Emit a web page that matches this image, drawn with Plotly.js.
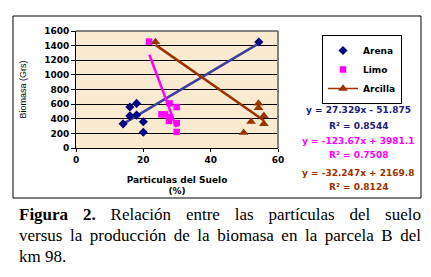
<!DOCTYPE html>
<html>
<head>
<meta charset="utf-8">
<script src="https://cdn.plot.ly/plotly-3.0.1.min.js"></script>
<style>
html,body{margin:0;padding:0;background:#fff;}
#wrap{position:relative;width:431px;height:277px;overflow:hidden;}
#chart{position:absolute;left:0;top:0;width:431px;height:277px;}
#cap{position:absolute;left:19px;top:204px;width:402px;font-family:"Liberation Serif","Times New Roman",serif;font-size:17px;line-height:21px;color:#000;}
#cap div{text-align:justify;text-align-last:justify;white-space:nowrap;font-size:17px;}
#cap div.last{text-align-last:left;}
#cap b{font-size:17px;}
</style>
</head>
<body>
<div id="wrap">
<div id="chart"></div>
<div id="cap">
<div style="font-size:17px"><b style="font-size:17px">Figura 2.</b> Relación entre las partículas del suelo</div>
<div style="font-size:17px">versus la producción de la biomasa en la parcela B del</div>
<div class="last" style="font-size:17px">km 98.</div>
</div>
</div>
<script>
// Data
const arenaX = [14, 16, 16, 18, 18, 20, 20, 54.3];
const arenaY = [330, 560, 440, 610, 450, 360, 215, 1450];
const limoX = [21.7, 25.4, 26.4, 27.8, 29.9, 27.9, 27.6, 29.9, 29.9];
const limoY = [1455, 460, 460, 610, 560, 420, 370, 340, 220];
const arcillaX = [23.6, 49.8, 52, 54.2, 54.2, 55.8, 55.8];
const arcillaY = [1450, 210, 360, 610, 550, 440, 330];

// Trend line end points
const arenaTrendX = [14, 54.3];
const arenaTrendY = [330, 1430];
const limoTrendX = [21.8, 29.8];
const limoTrendY = [1275, 285];
const arcillaTrendX = [23.6, 55.8];
const arcillaTrendY = [1410, 375];

const seriesNames = ["Arena", "Limo", "Arcilla"];
const equations = ["y = 27.329x - 51.875", "y = -123.67x + 3981.1", "y = -32.247x + 2169.8"];
const r2Values = ["0.8544", "0.7508", "0.8124"];
const xTicks = [0, 20, 40, 60];
const yTicks = [0, 200, 400, 600, 800, 1000, 1200, 1400, 1600];

const cArena = "#000080", cArenaLine = "#3E3E9E";
const cLimo = "#FF00FF";
const cArc = "#993300";
const eqColors = ["#202078", "#FF00FF", "#993300"];

const tickFont = {family: "DejaVu Sans", size: 9, color: "#000", weight: "bold"};

const traces = [
  {x: arenaTrendX, y: arenaTrendY, mode: "lines", line: {color: cArenaLine, width: 2.5}, showlegend: false, hoverinfo: "skip"},
  {x: limoTrendX, y: limoTrendY, mode: "lines", line: {color: cLimo, width: 2.5}, showlegend: false, hoverinfo: "skip"},
  {x: arcillaTrendX, y: arcillaTrendY, mode: "lines", line: {color: cArc, width: 2.5}, showlegend: false, hoverinfo: "skip"},
  {x: arenaX, y: arenaY, mode: "markers", name: seriesNames[0], marker: {symbol: "diamond", size: 7, color: cArena}},
  {x: limoX, y: limoY, mode: "markers", name: seriesNames[1], marker: {symbol: "square", size: 6.5, color: cLimo}},
  {x: arcillaX, y: arcillaY, mode: "markers", name: seriesNames[2], marker: {symbol: "triangle-up", size: 8.5, color: cArc}, showlegend: false},
  {x: [null], y: [null], mode: "lines+markers", name: seriesNames[2], line: {color: cArc, width: 1.5}, marker: {symbol: "triangle-up", size: 8.5, color: cArc}}
];

const L = 76, R = 278, T = 31, B = 148;
const pw = R - L, ph = B - T;
function px(x){ return (x - L) / pw; }
function py(y){ return (B - y) / ph; }

const annotations = [];
const eqY = [110, 126, 141, 155, 173, 187];
for (let i = 0; i < 3; i++) {
  annotations.push({xref: "paper", yref: "paper", x: px(358), y: py(eqY[2*i]), xanchor: "center", yanchor: "middle", showarrow: false,
    text: equations[i], font: {family: "DejaVu Sans", size: 9, color: eqColors[i], weight: "bold"}});
  annotations.push({xref: "paper", yref: "paper", x: px(358), y: py(eqY[2*i+1]), xanchor: "center", yanchor: "middle", showarrow: false,
    text: "R\u00B2 = " + r2Values[i], font: {family: "DejaVu Sans", size: 9, color: eqColors[i], weight: "bold"}});
}

const layout = {
  width: 431, height: 277,
  margin: {l: L, r: 431 - R, t: T, b: 277 - B, pad: 0},
  paper_bgcolor: "rgba(0,0,0,0)",
  plot_bgcolor: "#FAEACF",
  showlegend: true,
  legend: {x: px(322), y: py(35), xanchor: "left", yanchor: "top", bgcolor: "#fff", bordercolor: "#000", borderwidth: 1,
    font: {family: "DejaVu Sans", size: 9, color: "#000", weight: "bold"}, itemwidth: 30, tracegroupgap: 0},
  xaxis: {range: [0, 60], tickvals: xTicks, ticktext: xTicks.map(String), ticks: "outside", ticklen: 3, tickcolor: "#000",
    showgrid: false, zeroline: false, showline: true, linecolor: "#000", linewidth: 1, tickfont: tickFont,
    title: {text: "Particulas del Suelo<br>(%)", font: {family: "DejaVu Sans", size: 9, color: "#000", weight: "bold"}, standoff: 12}},
  yaxis: {range: [0, 1600], tickvals: yTicks, ticktext: yTicks.map(String), ticks: "outside", ticklen: 4, tickcolor: "#000",
    showgrid: true, gridcolor: "#000", gridwidth: 1, zeroline: false, showline: true, linecolor: "#000", linewidth: 1, tickfont: tickFont,
    title: {text: "Biomasa (Grs)", font: {family: "Liberation Sans", size: 9, color: "#000"}, standoff: 15}},
  shapes: [
    {type: "rect", xref: "paper", yref: "paper", x0: px(13), x1: px(421), y0: py(198), y1: py(16), line: {color: "#000", width: 1}, layer: "below"},
    {type: "line", xref: "paper", yref: "paper", x0: 0, x1: 1, y0: 1, y1: 1, line: {color: "#808080", width: 2}, layer: "above"},
    {type: "line", xref: "paper", yref: "paper", x0: 1, x1: 1, y0: 0, y1: 1, line: {color: "#808080", width: 2}, layer: "above"}
  ],
  annotations: annotations
};

Plotly.newPlot("chart", traces, layout, {displayModeBar: false, staticPlot: true});
</script>
</body>
</html>
